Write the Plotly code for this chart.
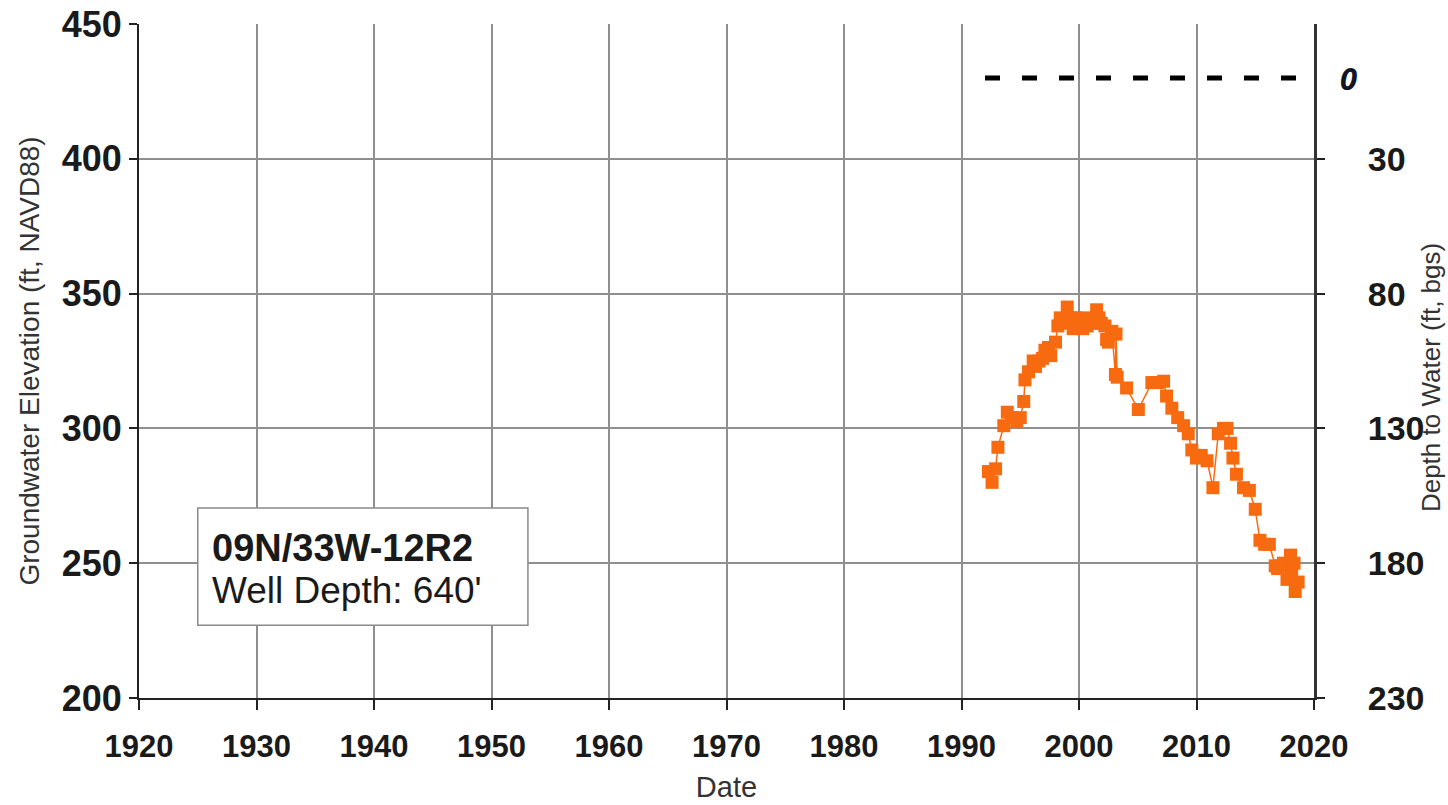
import plotly.graph_objects as go

# Well 09N/33W-12R2 hydrograph: decimal year vs groundwater elevation (ft, NAVD88)
obs_year = [
    1992.3, 1992.6, 1992.9, 1993.1, 1993.6, 1993.9, 1994.3, 1994.7, 1995.0, 1995.3,
    1995.4, 1995.7, 1996.1, 1996.3, 1996.6, 1996.9, 1997.1, 1997.4, 1997.6, 1998.0,
    1998.2, 1998.4, 1998.6, 1999.0, 1999.3, 1999.5, 1999.7, 2000.1, 2000.3, 2000.5,
    2000.7, 2000.9, 2001.2, 2001.5, 2001.7, 2001.9, 2002.2, 2002.35, 2002.5, 2002.8,
    2003.1, 2003.15, 2003.25, 2004.05, 2005.05, 2006.2, 2006.7, 2007.2, 2007.45, 2007.9,
    2008.4, 2008.9, 2009.3, 2009.6, 2010.0, 2010.4, 2010.9, 2011.4, 2011.85, 2012.3,
    2012.6, 2012.9, 2013.1, 2013.4, 2014.0, 2014.5, 2015.0, 2015.4, 2015.8, 2016.2,
    2016.7, 2016.9, 2017.1, 2017.4, 2017.7, 2018.0, 2018.1, 2018.3, 2018.4, 2018.65,
]
obs_elev = [
    284, 280, 285, 293, 301, 306, 304, 302.5, 304, 310,
    318, 321, 325, 323, 325, 326, 329, 330, 327, 332,
    338, 341, 339, 345, 341, 337, 341, 340, 337, 341,
    338, 340, 339, 344, 341, 339, 338, 333, 332, 336,
    320, 335, 319, 315, 307, 317, 317, 317.5, 312, 307.5,
    304, 301, 298, 292, 289, 290, 288, 278, 298, 300,
    300, 294.5, 289, 283, 278, 277, 270, 258.5, 257, 257,
    249, 248, 249, 250, 244, 253, 247.5, 250, 239.5, 243,
]

# Ground surface reference (depth to water = 0 ft bgs)
ground_years = [1992.0, 2018.6]
ground_depth = [0, 0]

# Axis ticks
year_ticks = [1920, 1930, 1940, 1950, 1960, 1970, 1980, 1990, 2000, 2010, 2020]
elev_ticks = [200, 250, 300, 350, 400, 450]
depth_ticks = [30, 80, 130, 180, 230]

# Depth to water = land surface elevation - groundwater elevation
land_surface = 430
elev_range = [200, 450]
depth_range = [land_surface - elev_range[0], land_surface - elev_range[1]]

FONT = "Arial, Liberation Sans, sans-serif"
ORANGE = "#F86A10"
GRID = "#8f8f8f"

fig = go.Figure()

fig.add_trace(go.Scatter(
    x=obs_year, y=obs_elev, mode="lines+markers",
    line=dict(color=ORANGE, width=1.5),
    marker=dict(symbol="square", size=13, color=ORANGE),
    showlegend=False, hoverinfo="x+y",
))

fig.add_trace(go.Scatter(
    x=ground_years, y=ground_depth, yaxis="y2", mode="lines",
    line=dict(color="black", width=5, dash="15px,22px"),
    showlegend=False, hoverinfo="skip",
))

fig.add_shape(
    type="rect", xref="x", yref="y", x0=1925.0, x1=1953.1, y0=227, y1=270.5,
    line=dict(color="#8a8a8a", width=1.5), fillcolor="white", layer="above",
)
fig.add_annotation(
    xref="x", yref="y", x=1926.0, y=255.6, xanchor="left", yanchor="middle",
    text="<b>09N/33W-12R2</b>", showarrow=False,
    font=dict(family=FONT, size=38, color="#1a1a1a"),
)
fig.add_annotation(
    xref="x", yref="y", x=1926.0, y=240.0, xanchor="left", yanchor="middle",
    text="Well Depth: 640'", showarrow=False,
    font=dict(family=FONT, size=37, color="#1a1a1a"),
)
fig.add_annotation(
    xref="paper", yref="y2", x=1.02, y=0, xanchor="left", yanchor="middle",
    text="<i><b>0</b></i>", showarrow=False,
    font=dict(family="Open Sans, sans-serif", size=31, color="#141428"),
)
# Right-hand axis title
fig.add_annotation(
    xref="paper", yref="paper", x=1.0995, y=0.476, xanchor="center", yanchor="middle",
    text="Depth to Water (ft, bgs)", textangle=-90, showarrow=False, borderpad=0,
    font=dict(family=FONT, size=26, color="#333"),
)

fig.update_layout(
    width=1448, height=805,
    margin=dict(l=139, r=134, t=24, b=107),
    paper_bgcolor="white", plot_bgcolor="white",
    font=dict(family=FONT, color="#222"),
    xaxis=dict(
        range=[1920, 2020], tickmode="array", tickvals=year_ticks,
        showgrid=True, gridcolor=GRID, gridwidth=1.5,
        showline=True, linecolor="#222", linewidth=2,
        ticks="outside", ticklen=10, tickwidth=2, tickcolor="#222",
        ticklabelstandoff=10,
        tickfont=dict(family=FONT, size=31, color="#1a1a1a", weight="bold"),
        title=dict(text="Date", font=dict(family=FONT, size=29, color="#333"), standoff=13),
        zeroline=False, automargin=False,
    ),
    yaxis=dict(
        range=elev_range, tickmode="array", tickvals=elev_ticks,
        showgrid=True, gridcolor=GRID, gridwidth=1.5,
        showline=True, linecolor="#222", linewidth=2,
        ticks="outside", ticklen=8, tickwidth=2, tickcolor="#222",
        tickfont=dict(family=FONT, size=36, color="#1a1a1a", weight="bold"),
        title=dict(text="Groundwater Elevation (ft, NAVD88)",
                   font=dict(family=FONT, size=28, color="#333"), standoff=14),
        zeroline=False, automargin=False,
    ),
    yaxis2=dict(
        range=depth_range, overlaying="y", side="right", anchor="x",
        tickmode="array", tickvals=depth_ticks, showgrid=False,
        showline=True, linecolor="#333", linewidth=3,
        ticks="outside", ticklen=8, tickwidth=2, tickcolor="#222",
        tickfont=dict(family=FONT, size=34, color="#1a1a1a", weight="bold"),
        ticklabelstandoff=36,
        zeroline=False, automargin=False,
    ),
)

fig.write_html("out.html")
